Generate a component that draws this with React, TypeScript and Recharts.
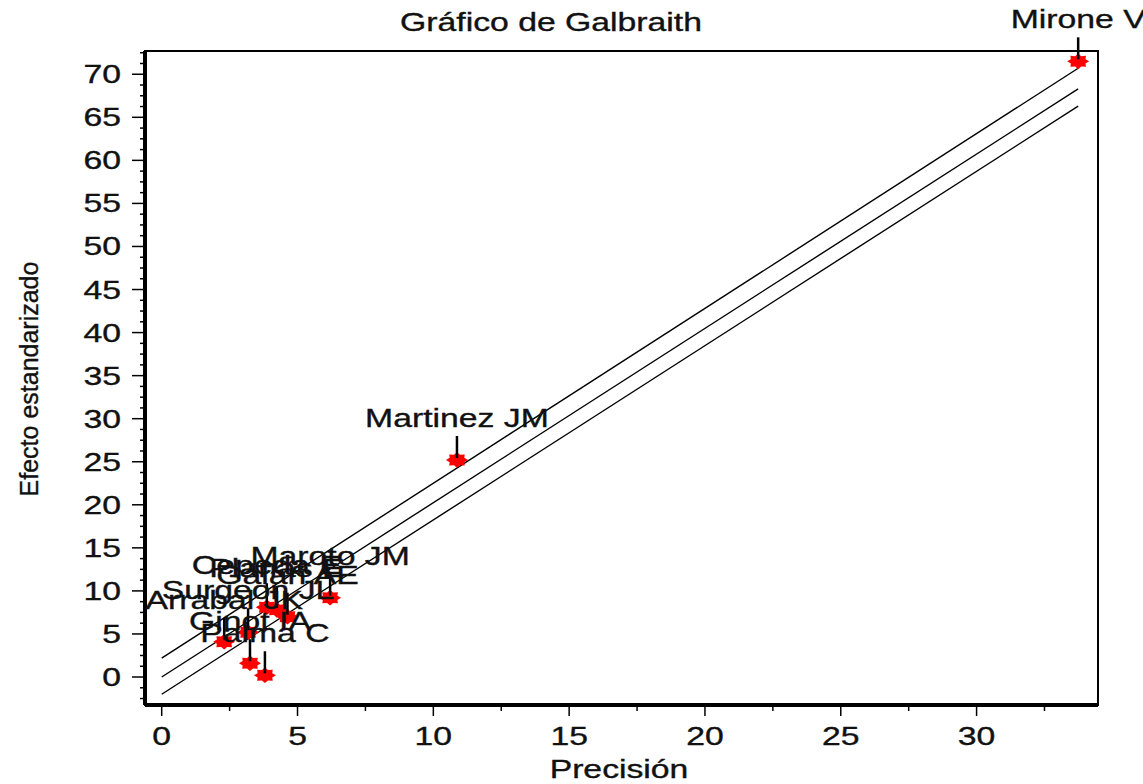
import React from 'react';
import { ReferenceArea, Scatter, ScatterChart, XAxis, YAxis } from 'recharts';

// studies
const studyNames = [
  'Mirone V',
  'Martinez JM',
  'Maroto JM',
  'Cepeda E',
  'Planas E',
  'Galán AE',
  'Surgeon JL',
  'Arrabal JK',
  'Ginot IA',
  'Palma C',
];
const precision = [33.74, 10.87, 6.2, 3.87, 4.24, 4.63, 3.18, 2.3, 3.25, 3.8];
const effect = [71.5, 25.2, 9.2, 8.1, 7.8, 7.0, 5.2, 4.1, 1.6, 0.2];

// regression line and its +/- 2 band (endpoints)
const lineX = [0, 33.74];
const upperY = [2.2, 70.7];
const centerY = [0, 68.3];
const lowerY = [-2.0, 66.3];

const xMajorTicks = [0, 5, 10, 15, 20, 25, 30];
const yMajorTicks = [0, 5, 10, 15, 20, 25, 30, 35, 40, 45, 50, 55, 60, 65, 70];
const xTicks = Array.from({ length: 14 }, (_, i) => i * 2.5);
const yTicks = Array.from({ length: 61 }, (_, i) => -2.5 + i * 1.25);

const X_DOMAIN = [-0.615, 34.47];
const Y_DOMAIN = [-3.25, 72.7];

const FONT = '"Liberation Sans", Arial, sans-serif';
const STRETCH = 1.35;
const INK = '#111';

const points = studyNames.map((name, i) => ({ name, x: precision[i], y: effect[i] }));
const upper = lineX.map((x, i) => ({ x, y: upperY[i] }));
const center = lineX.map((x, i) => ({ x, y: centerY[i] }));
const lower = lineX.map((x, i) => ({ x, y: lowerY[i] }));

const isMajor = (v: number) => Math.abs(v / 5 - Math.round(v / 5)) < 1e-6;

// stretched text, like the original export
function Txt({ x, y, anchor, children }: any) {
  return (
    <g transform={`translate(${x},${y}) scale(${STRETCH},1)`}>
      <text
        textAnchor={anchor}
        fontSize={25}
        fontFamily={FONT}
        fill={INK}
        stroke={INK}
        strokeWidth={0.35}
      >
        {children}
      </text>
    </g>
  );
}

function YTick(props: any) {
  const { x, y, payload } = props;
  const v = payload.value;
  const major = isMajor(v) && yMajorTicks.includes(v);
  return (
    <g>
      <line x1={x} x2={x - (major ? 13 : 5)} y1={y} y2={y} stroke="#000" strokeWidth={1.5} />
      {major && (
        <Txt x={x - 24} y={y + 9} anchor="end">
          {v}
        </Txt>
      )}
    </g>
  );
}

function XTick(props: any) {
  const { x, y, payload } = props;
  const v = payload.value;
  const major = isMajor(v) && xMajorTicks.includes(v);
  return (
    <g>
      <line x1={x} x2={x} y1={y} y2={y + (major ? 11 : 6)} stroke="#000" strokeWidth={1.5} />
      {major && (
        <Txt x={x} y={y + 40} anchor="middle">
          {v}
        </Txt>
      )}
    </g>
  );
}

function starPoints(cx: number, cy: number) {
  const pts: string[] = [];
  for (let i = 0; i < 16; i++) {
    const a = (Math.PI * i) / 8;
    const r = i % 2 === 0 ? 1 : 0.72;
    pts.push(`${cx + Math.cos(a) * 11 * r},${cy + Math.sin(a) * 7.8 * r}`);
  }
  return pts.join(' ');
}

function StudyMarker(props: any) {
  const { cx, cy, payload } = props;
  if (cx == null || cy == null) return <g />;
  return (
    <g>
      <polygon points={starPoints(cx, cy)} fill="#ff0000" />
      <line x1={cx} x2={cx} y1={cy - 24} y2={cy - 2} stroke="#000" strokeWidth={2.5} />
      <Txt x={cx} y={cy - 33} anchor="middle">
        {payload.name}
      </Txt>
    </g>
  );
}

const NoDot = () => <g />;

export default function App() {
  return (
    <div style={{ position: 'absolute', left: 0, top: 0, width: 1143, height: 784, background: '#fff' }}>
      <ScatterChart
        width={1143}
        height={784}
        margin={{ top: 51, right: 45, bottom: 9, left: 45 }}
      >
        <XAxis
          type="number"
          dataKey="x"
          domain={X_DOMAIN}
          ticks={xTicks}
          interval={0}
          tickSize={0}
          tickMargin={0}
          tickLine={false}
          tick={<XTick />}
          height={70}
          axisLine={{ stroke: '#000', strokeWidth: 4 }}
        />
        <YAxis
          type="number"
          dataKey="y"
          domain={Y_DOMAIN}
          ticks={yTicks}
          interval={0}
          tickSize={0}
          tickMargin={0}
          tickLine={false}
          tick={<YTick />}
          width={100}
          axisLine={{ stroke: '#000', strokeWidth: 4 }}
        />
        <ReferenceArea
          x1={X_DOMAIN[0]}
          x2={X_DOMAIN[1]}
          y1={Y_DOMAIN[0]}
          y2={Y_DOMAIN[1]}
          fill="none"
          fillOpacity={0}
          stroke="#000"
          strokeWidth={2}
        />
        <Scatter
          data={upper}
          line={{ stroke: '#000', strokeWidth: 1.4 }}
          shape={NoDot}
          isAnimationActive={false}
          legendType="none"
        />
        <Scatter
          data={center}
          line={{ stroke: '#000', strokeWidth: 1.4 }}
          shape={NoDot}
          isAnimationActive={false}
          legendType="none"
        />
        <Scatter
          data={lower}
          line={{ stroke: '#000', strokeWidth: 1.4 }}
          shape={NoDot}
          isAnimationActive={false}
          legendType="none"
        />
        <Scatter data={points} shape={StudyMarker} isAnimationActive={false} />
      </ScatterChart>
      <svg
        width={1143}
        height={784}
        style={{ position: 'absolute', left: 0, top: 0, pointerEvents: 'none' }}
      >
        <Txt x={551} y={31} anchor="middle">
          Gráfico de Galbraith
        </Txt>
        <Txt x={619} y={778} anchor="middle">
          Precisión
        </Txt>
        <g transform={`translate(38,379) scale(1.05,1) rotate(-90)`}>
          <text
            textAnchor="middle"
            fontSize={25}
            fontFamily={FONT}
            fill={INK}
            stroke={INK}
            strokeWidth={0.35}
          >
            Efecto estandarizado
          </text>
        </g>
      </svg>
    </div>
  );
}
